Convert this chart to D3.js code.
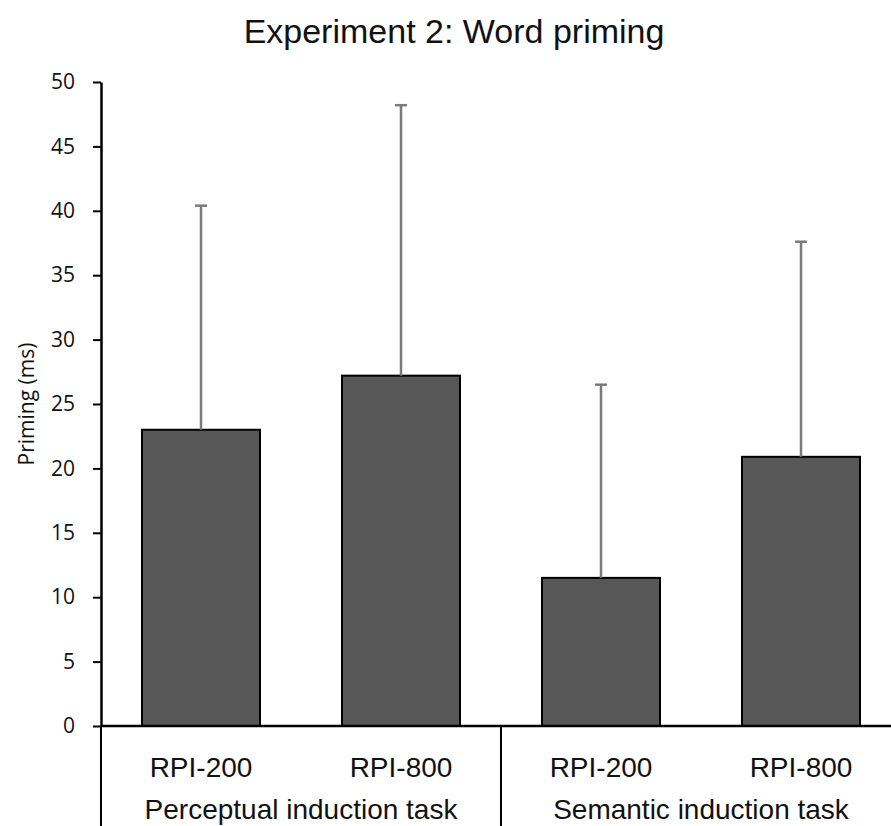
<!DOCTYPE html>
<html>
<head>
<meta charset="utf-8">
<script src="https://cdn.jsdelivr.net/npm/d3@7"></script>
<style>
  body { margin: 0; background: #fff; }
  svg { display: block; }
</style>
</head>
<body>
<svg id="chart" width="891" height="826"></svg>
<script>
// ---------- DATA ----------
const conditions = ['RPI-200', 'RPI-800', 'RPI-200', 'RPI-800'];
const groups = ['Perceptual induction task', 'Semantic induction task'];
const means = [23.0, 27.2, 11.5, 20.9];
const errors = [17.4, 21.0, 15.0, 16.7];
const yTicks = [0, 5, 10, 15, 20, 25, 30, 35, 40, 45, 50];

const arialish = '"Liberation Sans", Arial, sans-serif';
const calibriish = '"Open Sans", "Noto Sans", sans-serif';

// ---------- CHART ----------
(function initChart() {
  const svg = d3.select('#chart');
  const left = 101, right = 901, top = 82, bottom = 726;
  const keys = conditions.map((c, i) => i);

  const x = d3.scaleBand()
    .domain(keys)
    .range([left, right])
    .paddingInner(0.41)
    .paddingOuter(0.205);

  const y = d3.scaleLinear().domain([0, 50]).range([bottom, top]);

  // title
  svg.append('text')
    .attr('x', 454).attr('y', 43)
    .attr('text-anchor', 'middle')
    .attr('font-family', arialish)
    .attr('font-size', 34)
    .attr('fill', '#111')
    .text('Experiment 2: Word priming');

  // y axis
  const yAxis = svg.append('g')
    .attr('transform', `translate(${left},0)`)
    .call(d3.axisLeft(y).tickValues(yTicks).tickSize(8).tickPadding(18).tickSizeOuter(0));
  yAxis.attr('font-size', null).attr('font-family', null);
  yAxis.select('.domain').attr('stroke', '#000').attr('stroke-width', 2.5);
  yAxis.selectAll('.tick line').attr('stroke', '#000').attr('stroke-width', 2);
  yAxis.selectAll('.tick text')
    .attr('font-family', calibriish)
    .attr('font-size', 21)
    .attr('fill', '#111');

  // y label
  svg.append('text')
    .attr('transform', `translate(34,${(top + bottom) / 2}) rotate(-90)`)
    .attr('text-anchor', 'middle')
    .attr('font-family', calibriish)
    .attr('font-size', 21)
    .attr('fill', '#111')
    .text('Priming (ms)');

  // bars
  svg.selectAll('rect.bar')
    .data(keys)
    .join('rect')
    .attr('class', 'bar')
    .attr('x', (i) => x(i))
    .attr('y', (i) => y(means[i]))
    .attr('width', x.bandwidth())
    .attr('height', (i) => y(0) - y(means[i]))
    .attr('fill', '#575757')
    .attr('stroke', '#000')
    .attr('stroke-width', 2);

  // error bars (upper only)
  const cap = 12;
  const eb = svg.selectAll('g.err').data(keys).join('g').attr('class', 'err')
    .attr('stroke', '#7a7a7a').attr('stroke-width', 2.5);
  eb.append('line')
    .attr('x1', (i) => x(i) + x.bandwidth() / 2)
    .attr('x2', (i) => x(i) + x.bandwidth() / 2)
    .attr('y1', (i) => y(means[i]))
    .attr('y2', (i) => y(means[i] + errors[i]));
  eb.append('line')
    .attr('x1', (i) => x(i) + x.bandwidth() / 2 - cap / 2)
    .attr('x2', (i) => x(i) + x.bandwidth() / 2 + cap / 2)
    .attr('y1', (i) => y(means[i] + errors[i]))
    .attr('y2', (i) => y(means[i] + errors[i]));

  // category axis
  svg.append('line')
    .attr('x1', left).attr('x2', right)
    .attr('y1', bottom).attr('y2', bottom)
    .attr('stroke', '#000').attr('stroke-width', 2.5);

  const step = x.step();
  const groupEdges = [left, left + 2 * step, left + 4 * step];
  svg.selectAll('line.gsep')
    .data(groupEdges)
    .join('line')
    .attr('class', 'gsep')
    .attr('x1', (d) => d).attr('x2', (d) => d)
    .attr('y1', bottom).attr('y2', 826)
    .attr('stroke', '#000').attr('stroke-width', 2);

  svg.selectAll('text.cond')
    .data(keys)
    .join('text')
    .attr('class', 'cond')
    .attr('x', (i) => x(i) + x.bandwidth() / 2)
    .attr('y', 777)
    .attr('text-anchor', 'middle')
    .attr('font-family', arialish)
    .attr('font-size', 28)
    .attr('fill', '#111')
    .text((i) => conditions[i]);

  svg.selectAll('text.group')
    .data(groups)
    .join('text')
    .attr('class', 'group')
    .attr('x', (d, j) => (groupEdges[j] + groupEdges[j + 1]) / 2)
    .attr('y', 819)
    .attr('text-anchor', 'middle')
    .attr('font-family', arialish)
    .attr('font-size', 28)
    .attr('fill', '#111')
    .text((d) => d);
})();
</script>
</body>
</html>
